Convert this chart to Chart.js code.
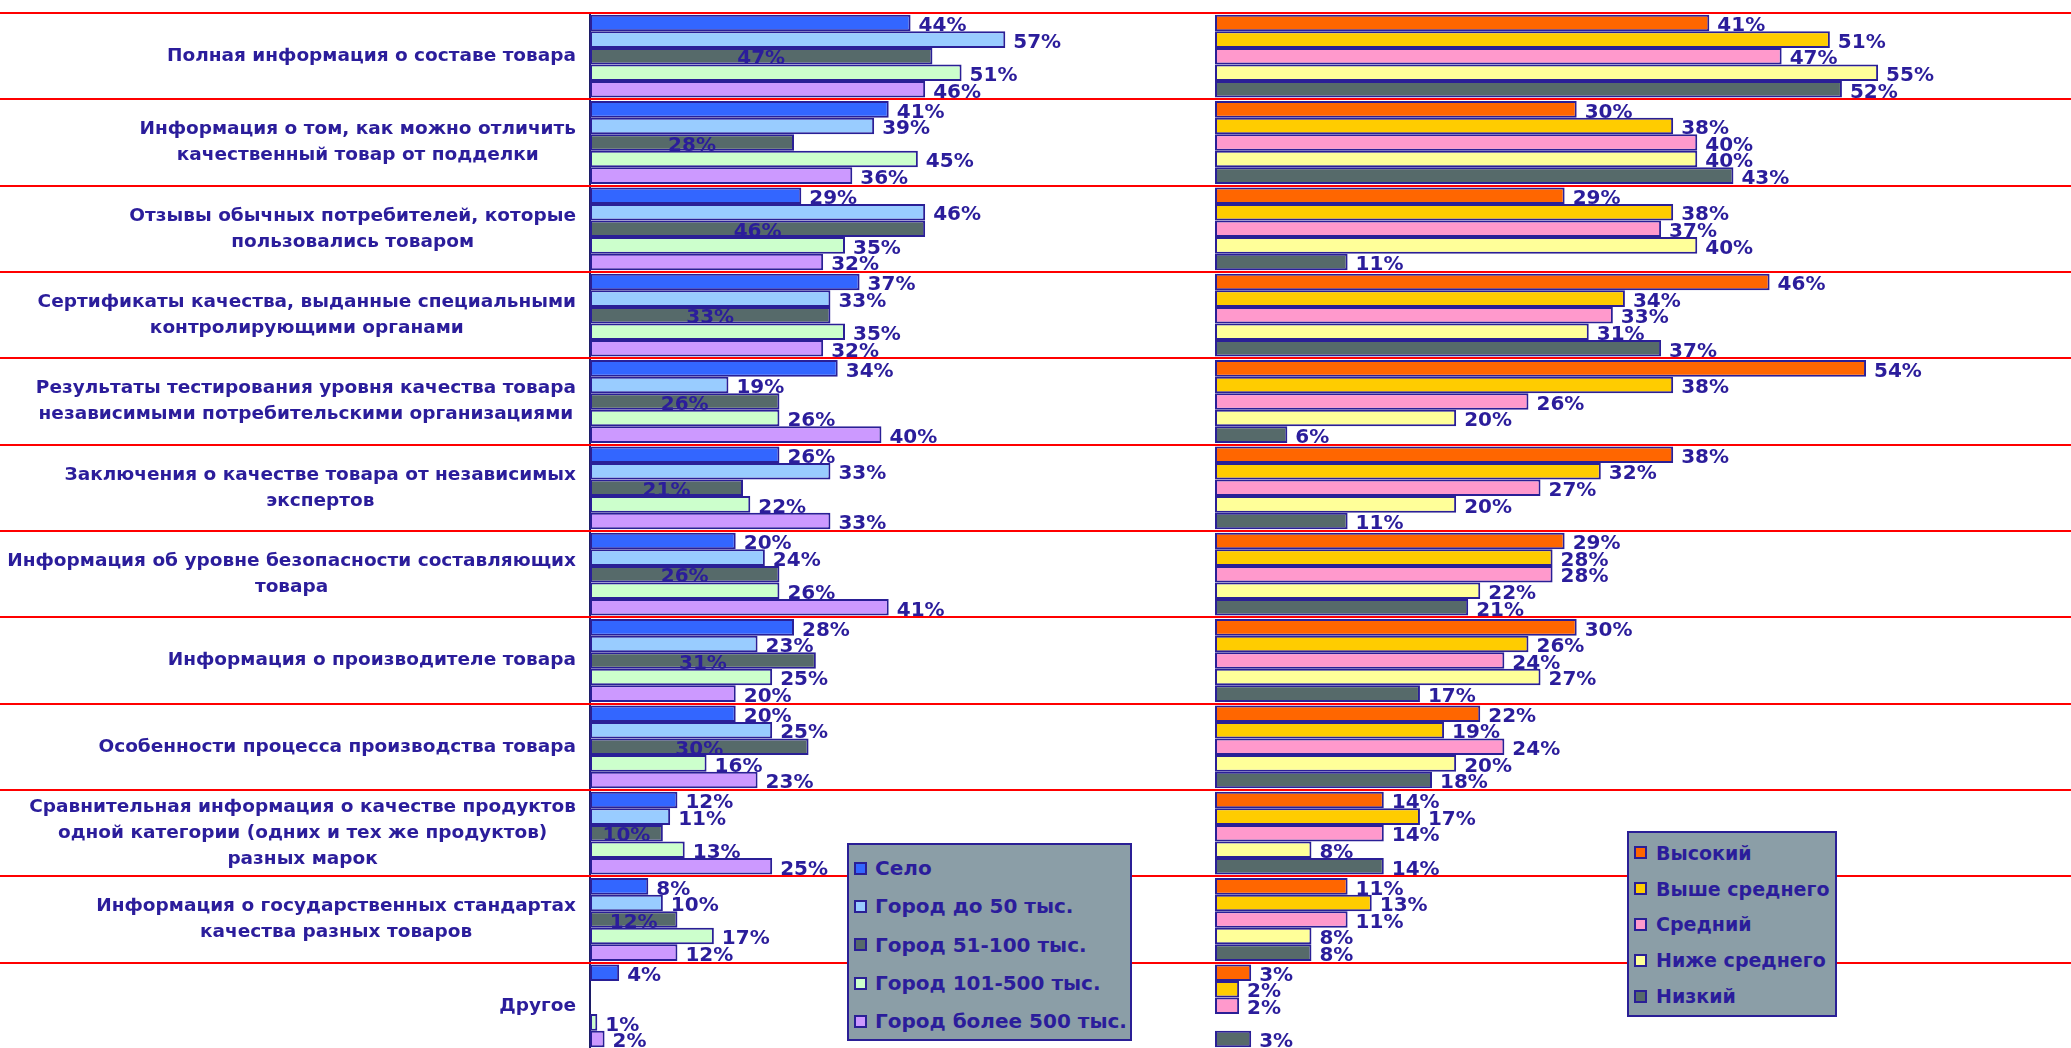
<!DOCTYPE html>
<html lang="ru">
<head>
<meta charset="utf-8">
<title>Какая информация о товаре нужна покупателю</title>
<script src="https://cdn.jsdelivr.net/npm/chart.js@4.4.0/dist/chart.umd.min.js"></script>
<style>
  html, body { margin: 0; padding: 0; width: 2071px; height: 1048px; overflow: hidden; background: #fff; }
  canvas { position: absolute; top: 0; }
  #left { left: 0; }
  #right { left: 1202px; }
  .legend {
    position: absolute; box-sizing: border-box;
    background: #8b9ea7; border: 2px solid #2a1f96;
    font: bold 20px "DejaVu Sans", sans-serif; color: #2b1d9b;
  }
  .legend div { display: flex; align-items: center; white-space: nowrap; }
  .legend .box { width: 9px; height: 9px; border: 2px solid #2a1f96; }
  #legend-left { left: 847px; top: 843px; width: 285px; height: 198px; padding: 4px 0 0 5px; }
  #legend-left div { height: 38.3px; }
  #legend-left .box { margin-right: 8px; }
  #legend-right { left: 1627px; top: 831px; width: 210px; height: 186px; padding: 2px 0 0 5px; font-size: 19px; }
  #legend-right div { height: 35.8px; }
  #legend-right .box { margin-right: 9px; }
</style>
</head>
<body>
<canvas id="left" width="1202" height="1049"></canvas>
<canvas id="right" width="869" height="1049"></canvas>
<div class="legend" id="legend-left"></div>
<div class="legend" id="legend-right"></div>
<script>
const categories = [
  ['Полная информация о составе товара'],
  ['Информация о том, как можно отличить', 'качественный товар от подделки'],
  ['Отзывы обычных потребителей, которые', 'пользовались товаром'],
  ['Сертификаты качества, выданные специальными', 'контролирующими органами'],
  ['Результаты тестирования уровня качества товара', 'независимыми потребительскими организациями'],
  ['Заключения о качестве товара от независимых', 'экспертов'],
  ['Информация об уровне безопасности составляющих', 'товара'],
  ['Информация о производителе товара'],
  ['Особенности процесса производства товара'],
  ['Сравнительная информация о качестве продуктов', 'одной категории (одних и тех же продуктов)', 'разных марок'],
  ['Информация о государственных стандартах', 'качества разных товаров'],
  ['Другое']
];

// по типу населённого пункта, %
const cityNames = ['Село', 'Город до 50 тыс.', 'Город 51-100 тыс.', 'Город 101-500 тыс.', 'Город более 500 тыс.'];
const selo      = [44, 41, 29, 37, 34, 26, 20, 28, 20, 12, 8, 4];
const gorod50   = [57, 39, 46, 33, 19, 33, 24, 23, 25, 11, 10, null];
const gorod100  = [47, 28, 46, 33, 26, 21, 26, 31, 30, 10, 12, null];
const gorod500  = [51, 45, 35, 35, 26, 22, 26, 25, 16, 13, 17, 1];
const gorodBig  = [46, 36, 32, 32, 40, 33, 41, 20, 23, 25, 12, 2];

// по уровню дохода, %
const incomeNames = ['Высокий', 'Выше среднего', 'Средний', 'Ниже среднего', 'Низкий'];
const vysokiy   = [41, 30, 29, 46, 54, 38, 29, 30, 22, 14, 11, 3];
const vysheSred = [51, 38, 38, 34, 38, 32, 28, 26, 19, 17, 13, 2];
const sredniy   = [47, 40, 37, 33, 26, 27, 28, 24, 24, 14, 11, 2];
const nizheSred = [55, 40, 40, 31, 20, 20, 22, 27, 20, 8, 8, null];
const nizkiy    = [52, 43, 11, 37, 6, 11, 21, 17, 18, 14, 8, 3];

const cityColors = ['#3366ff', '#99ccff', '#566a6a', '#ccffcc', '#cc99ff'];
const incomeColors = ['#ff6600', '#ffcc00', '#ff99cc', '#ffff99', '#566a6a'];

const INK = '#2b1d9b';
const EDGE = '#2a1f96';

// красные разделители между группами, на всю ширину холста
const separators = {
  id: 'separators',
  beforeDatasetsDraw(chart) {
    const area = chart.chartArea;
    const n = chart.data.labels.length;
    const step = (area.bottom - area.top) / n;
    const c = chart.ctx;
    c.save();
    c.strokeStyle = '#ff0000';
    c.lineWidth = 2;
    for (let i = 0; i <= n; i++) {
      const y = Math.round(area.top + i * step);
      c.beginPath();
      c.moveTo(0, y);
      c.lineTo(chart.width, y);
      c.stroke();
    }
    c.restore();
  }
};

// подписи значений у концов столбиков
const valueLabels = {
  id: 'valueLabels',
  afterDatasetsDraw(chart) {
    const c = chart.ctx;
    c.save();
    c.font = 'bold 20px "DejaVu Sans"';
    c.fillStyle = INK;
    c.textBaseline = 'middle';
    chart.data.datasets.forEach((ds, i) => {
      chart.getDatasetMeta(i).data.forEach((bar, j) => {
        const v = ds.data[j];
        if (v === null) return;
        if (ds.labelInside) {
          c.textAlign = 'center';
          c.fillText(v + '%', (bar.base + bar.x) / 2, bar.y + 3);
        } else {
          c.textAlign = 'left';
          c.fillText(v + '%', bar.x + 8, bar.y + 3);
        }
      });
    });
    c.restore();
  }
};

// названия групп слева, строки каждой подписи центрируются между собой
const categoryLabels = {
  id: 'categoryLabels',
  afterDraw(chart) {
    const c = chart.ctx;
    const right = chart.chartArea.left - 14;
    c.save();
    c.font = 'bold 18.5px "DejaVu Sans"';
    c.fillStyle = INK;
    c.textAlign = 'center';
    c.textBaseline = 'middle';
    categories.forEach((lines, i) => {
      const cy = chart.scales.y.getPixelForValue(i);
      const w = Math.max(...lines.map(l => c.measureText(l).width));
      lines.forEach((l, k) => {
        c.fillText(l, right - w / 2, cy + (k - (lines.length - 1) / 2) * 26);
      });
    });
    c.restore();
  }
};

const makeDatasets = (names, series, colors) => names.map((name, i) => ({
  label: name,
  data: series[i],
  backgroundColor: colors[i],
  borderColor: EDGE,
  borderWidth: 2,
  borderSkipped: false,
  categoryPercentage: 0.96,
  barPercentage: 1.0
}));

const cityData = makeDatasets(cityNames, [selo, gorod50, gorod100, gorod500, gorodBig], cityColors);
cityData[2].labelInside = true;
const incomeData = makeDatasets(incomeNames, [vysokiy, vysheSred, sredniy, nizheSred, nizkiy], incomeColors);

const baseOptions = {
  indexAxis: 'y',
  responsive: false,
  animation: false,
  plugins: { legend: { display: false }, tooltip: { enabled: false } }
};

const leftChart = new Chart(document.getElementById('left').getContext('2d'), {
  type: 'bar',
  data: { labels: categories, datasets: cityData },
  options: {
    ...baseOptions,
    layout: { padding: { top: 13, right: 0, bottom: 0, left: 0 } },
    scales: {
      x: { display: false, min: 0, max: 84 },
      y: {
        afterFit(scale) { scale.width = 590; },
        ticks: { display: false },
        grid: { display: true, drawOnChartArea: false, drawTicks: true, tickLength: 6, color: '#1c1c66', offset: true },
        border: { display: true, color: '#1c1c66', width: 2 }
      }
    }
  },
  plugins: [separators, valueLabels, categoryLabels]
});

const rightChart = new Chart(document.getElementById('right').getContext('2d'), {
  type: 'bar',
  data: { labels: categories, datasets: incomeData },
  options: {
    ...baseOptions,
    layout: { padding: { top: 13, right: 0, bottom: 0, left: 13 } },
    scales: {
      x: { display: false, min: 0, max: 71 },
      y: { display: false }
    }
  },
  plugins: [separators, valueLabels]
});

const buildLegend = (chart, el) => {
  chart.data.datasets.forEach(ds => {
    const row = document.createElement('div');
    const box = document.createElement('span');
    box.className = 'box';
    box.style.background = ds.backgroundColor;
    row.appendChild(box);
    row.appendChild(document.createTextNode(ds.label));
    el.appendChild(row);
  });
};

buildLegend(leftChart, document.getElementById('legend-left'));
buildLegend(rightChart, document.getElementById('legend-right'));
</script>
</body>
</html>
